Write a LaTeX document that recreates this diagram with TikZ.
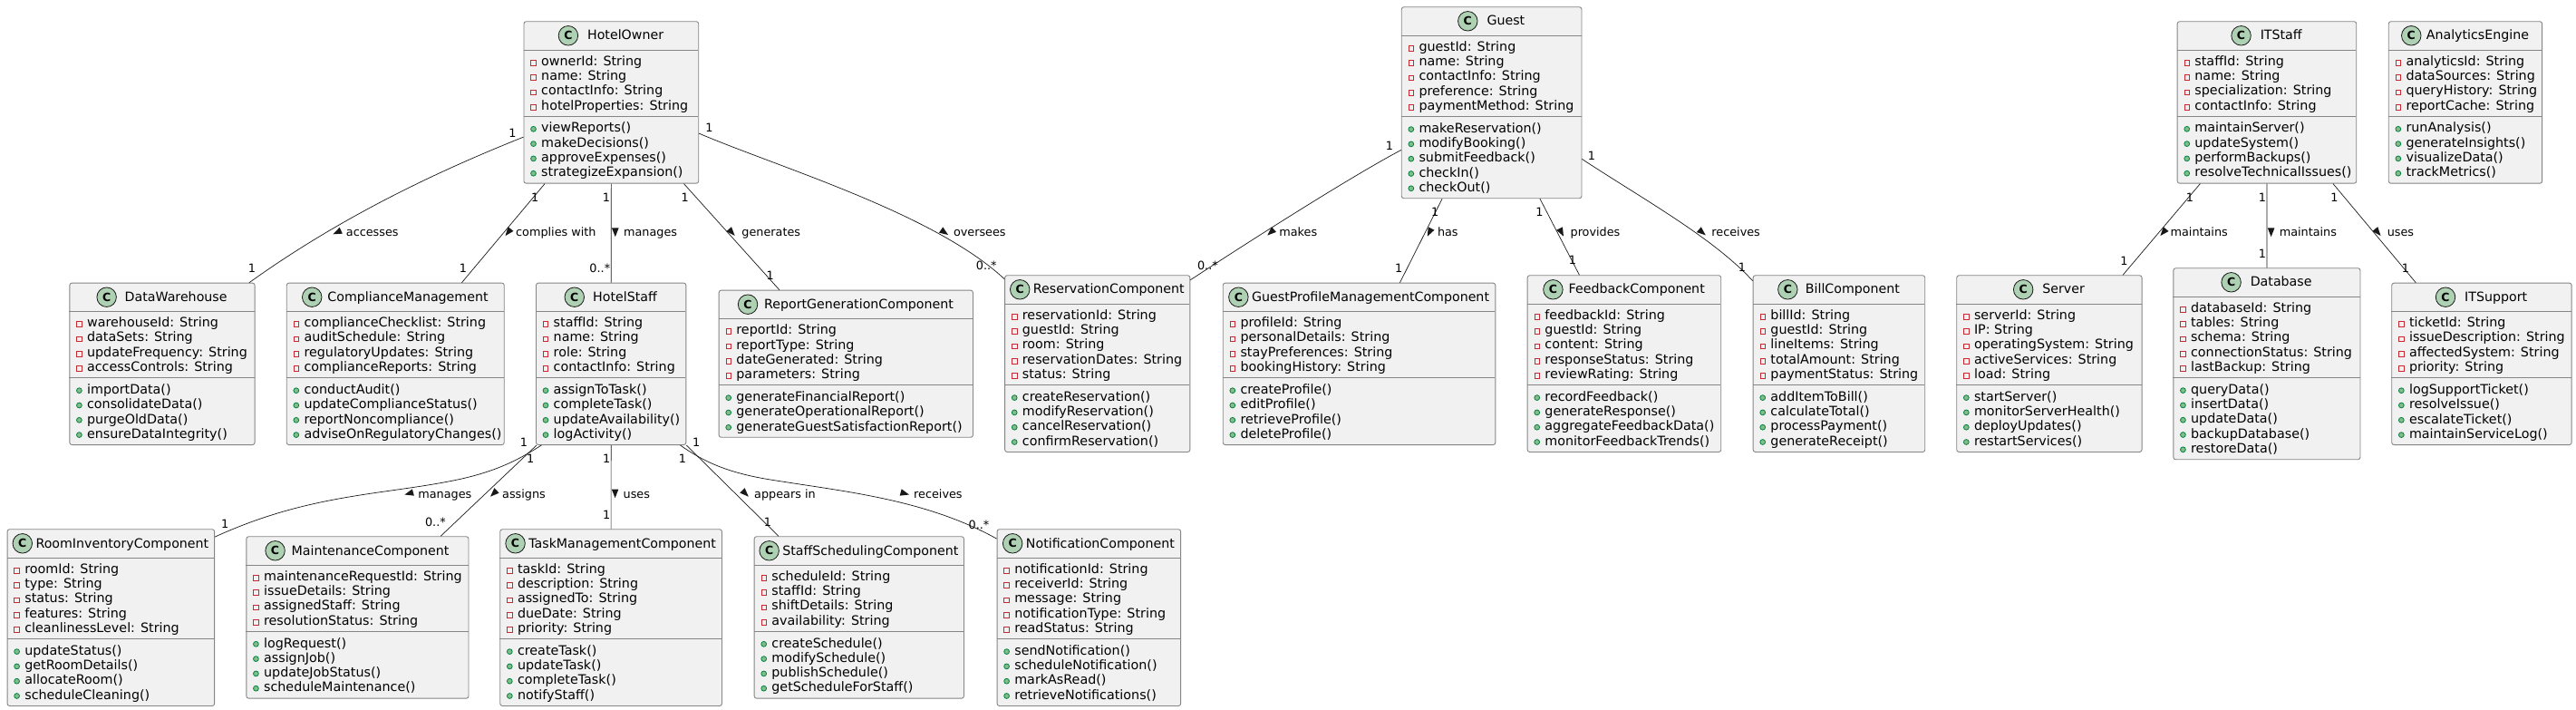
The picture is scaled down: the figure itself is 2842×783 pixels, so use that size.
\documentclass[tikz,border=0pt]{standalone}
\usepackage{fontspec}
\setmainfont{DejaVu Sans}
\usetikzlibrary{arrows.meta}

\definecolor{boxfill}{HTML}{F1F1F1}
\definecolor{boxline}{HTML}{858585}
\definecolor{linkline}{HTML}{181818}
\definecolor{spotfill}{HTML}{ADD1B2}
\definecolor{privline}{HTML}{C82930}
\definecolor{pubfill}{HTML}{84BE84}
\definecolor{publine}{HTML}{038048}

\newlength{\titlewd}
\newcommand{\rowfont}{\fontsize{14.3}{16.3}\selectfont}
\newcommand{\titlefont}{\fontsize{14.2}{16.3}\selectfont}
\newcommand{\linkfont}{\fontsize{12.8}{15}\selectfont}

% name, title, left, top, width, fields, operations
\newcommand{\umlclass}[7]{%
    \foreach \fname [count=\k] in {#6} {\xdef\nfields{\k}}
    \foreach \fname [count=\k] in {#7} {\xdef\nops{\k}}
    \pgfmathsetmacro{\yfields}{#4+32}
    \pgfmathsetmacro{\ysep}{#4+32+8+16.3*\nfields}
    \pgfmathsetmacro{\ybot}{\ysep+8+16.3*\nops}
    \pgfmathsetmacro{\boxht}{\ybot-#4}
    \pgfmathsetmacro{\xright}{#3+#5}
    \node[classbox, minimum width=#5pt, minimum height=\boxht pt] (#1) at (#3,#4) {};
    \draw[boxrule] (#3,\yfields) -- (\xright,\yfields);
    \draw[boxrule] (#3,\ysep) -- (\xright,\ysep);
    % spot and title share the header, the gap grows with the spare room
    \settowidth{\titlewd}{\pgfinterruptpicture\titlefont #2\endpgfinterruptpicture}
    \pgfmathsetmacro{\spare}{#5-22-\titlewd}
    \pgfmathsetmacro{\titlegap}{3+min(7,0.1*max(\spare-10.6,0))}
    \pgfmathsetmacro{\xspot}{#3+(\spare-\titlegap)/2+11}
    \node[classspot] (#1-spot) at (\xspot,#4+16) {C};
    \node[classtitle] (#1-title) at (\xspot+11+\titlegap,#4+20.7) {#2};
    \foreach \fname [count=\k] in {#6} {
        \pgfmathsetmacro{\ybase}{\yfields+17+16.3*(\k-1)}
        \node[privmark] (#1-fm\k) at (#3+11,\ybase-3) {};
        \node[rowtext] (#1-f\k) at (#3+19.5,\ybase) {\fname: String};
    }
    \foreach \fname [count=\k] in {#7} {
        \pgfmathsetmacro{\ybase}{\ysep+17.5+16.3*(\k-1)}
        \node[pubmark] (#1-om\k) at (#3+11,\ybase-3.7) {};
        \node[rowtext] (#1-o\k) at (#3+19.5,\ybase) {\fname()};
    }
}

% name, text left, baseline, text, mark x, mark angle
\newcommand{\linklabel}[6]{%
    \node[linktext] (#1) at (#2,#3) {#4};
    \fill[linkline, shift={(#5,#3-4.8)}, rotate=#6] (5,0) -- (-4.7,3.8) -- (-4.7,-3.8) -- cycle;
}

\begin{document}
\begin{tikzpicture}[x=1pt, y=-1pt]
    \tikzstyle{classbox} = [draw=boxline, fill=boxfill, line width=0.9pt, rounded corners=2.5pt, rectangle, inner sep=0pt, anchor=north west];
    \tikzstyle{boxrule} = [draw=boxline, line width=0.9pt];
    \tikzstyle{classspot} = [circle, draw=linkline, fill=spotfill, line width=0.8pt, minimum size=21.5pt, inner sep=0pt, font=\fontsize{12.5}{13}\selectfont\bfseries];
    \tikzstyle{classtitle} = [anchor=base west, inner sep=0pt, font=\titlefont];
    \tikzstyle{rowtext} = [anchor=base west, inner sep=0pt, font=\rowfont];
    \tikzstyle{privmark} = [rectangle, draw=privline, line width=0.8pt, minimum size=5.6pt, inner sep=0pt];
    \tikzstyle{pubmark} = [circle, draw=publine, fill=pubfill, line width=0.8pt, minimum size=5.8pt, inner sep=0pt];
    \tikzstyle{linktext} = [anchor=base west, inner sep=0pt, font=\linkfont];
    \tikzstyle{mult} = [inner sep=0pt, font=\linkfont];
    \tikzstyle{assoc} = [draw=linkline, line width=0.7pt];

    \useasboundingbox (0,0) rectangle (2842,783);

    \umlclass{owner}{HotelOwner}{577.5}{23.3}{192.8}{ownerId,name,contactInfo,hotelProperties}{viewReports,makeDecisions,approveExpenses,strategizeExpansion}
    \umlclass{guest}{Guest}{1545.8}{7.3}{198.7}{guestId,name,contactInfo,preference,paymentMethod}{makeReservation,modifyBooking,submitFeedback,checkIn,checkOut}
    \umlclass{itstaff}{ITStaff}{2401.7}{23.3}{197.6}{staffId,name,specialization,contactInfo}{maintainServer,updateSystem,performBackups,resolveTechnicalIssues}
    \umlclass{analytics}{AnalyticsEngine}{2634.8}{23.3}{169.4}{analyticsId,dataSources,queryHistory,reportCache}{runAnalysis,generateInsights,visualizeData,trackMetrics}

    \umlclass{warehouse}{DataWarehouse}{76.4}{311.7}{204.2}{warehouseId,dataSets,updateFrequency,accessControls}{importData,consolidateData,purgeOldData,ensureDataIntegrity}
    \umlclass{compliance}{ComplianceManagement}{315.8}{311.7}{240}{complianceChecklist,auditSchedule,regulatoryUpdates,complianceReports}{conductAudit,updateComplianceStatus,reportNoncompliance,adviseOnRegulatoryChanges}
    \umlclass{staff}{HotelStaff}{591}{311.7}{165.4}{staffId,name,role,contactInfo}{assignToTask,completeTask,updateAvailability,logActivity}
    \umlclass{report}{ReportGenerationComponent}{792.7}{319.7}{280.3}{reportId,reportType,dateGenerated,parameters}{generateFinancialReport,generateOperationalReport,generateGuestSatisfactionReport}
    \umlclass{reservation}{ReservationComponent}{1108.2}{303.3}{204.2}{reservationId,guestId,room,reservationDates,status}{createReservation,modifyReservation,cancelReservation,confirmReservation}
    \umlclass{profile}{GuestProfileManagementComponent}{1348.8}{311.7}{300.6}{profileId,personalDetails,stayPreferences,bookingHistory}{createProfile,editProfile,retrieveProfile,deleteProfile}
    \umlclass{feedback}{FeedbackComponent}{1684.7}{303.3}{213.6}{feedbackId,guestId,content,responseStatus,reviewRating}{recordFeedback,generateResponse,aggregateFeedbackData,monitorFeedbackTrends}
    \umlclass{bill}{BillComponent}{1933.7}{303.3}{189.6}{billId,guestId,lineItems,totalAmount,paymentStatus}{addItemToBill,calculateTotal,processPayment,generateReceipt}
    \umlclass{server}{Server}{2158.3}{303.3}{204.3}{serverId,IP,operatingSystem,activeServices,load}{startServer,monitorServerHealth,deployUpdates,restartServices}
    \umlclass{database}{Database}{2397.4}{295.3}{206.1}{databaseId,tables,schema,connectionStatus,lastBackup}{queryData,insertData,updateData,backupDatabase,restoreData}
    \umlclass{support}{ITSupport}{2638.3}{311.7}{198.4}{ticketId,issueDescription,affectedSystem,priority}{logSupportTicket,resolveIssue,escalateTicket,maintainServiceLog}

    \umlclass{room}{RoomInventoryComponent}{7.6}{583.3}{228.6}{roomId,type,status,features,cleanlinessLevel}{updateStatus,getRoomDetails,allocateRoom,scheduleCleaning}
    \umlclass{maintenance}{MaintenanceComponent}{271.4}{591.3}{245.1}{maintenanceRequestId,issueDetails,assignedStaff,resolutionStatus}{logRequest,assignJob,updateJobStatus,scheduleMaintenance}
    \umlclass{task}{TaskManagementComponent}{551.3}{583.3}{244.7}{taskId,description,assignedTo,dueDate,priority}{createTask,updateTask,completeTask,notifyStaff}
    \umlclass{schedule}{StaffSchedulingComponent}{831.7}{591.3}{231.3}{scheduleId,staffId,shiftDetails,availability}{createSchedule,modifySchedule,publishSchedule,getScheduleForStaff}
    \umlclass{notification}{NotificationComponent}{1099.6}{583.3}{202.6}{notificationId,receiverId,message,notificationType,readStatus}{sendNotification,scheduleNotification,markAsRead,retrieveNotifications}

    % hotel owner
    \draw[assoc] ([yshift=-38.2pt]owner.west) .. controls (480,190) and (375,240) .. ([xshift=96pt]warehouse.north);
    \node[mult] (ownerware1) at (565.5,146.7) {1}; \node[mult] (ownerware2) at (278,295.7) {1};
    \linklabel{accesses}{381.7}{261}{accesses}{372}{205}
    \draw[assoc] ([xshift=-73.3pt]owner.south) -- ([xshift=73.2pt]compliance.north);
    \node[mult] (ownercomp1) at (590.3,218) {1}; \node[mult] (ownercomp2) at (511,295.7) {1};
    \linklabel{complies}{569}{261}{complies with}{560.6}{232}
    \draw[assoc] (owner.south) -- (staff.north);
    \node[mult] (ownerstaff1) at (669,218) {1}; \node[mult] (ownerstaff2) at (661.8,295.7) {0..*};
    \linklabel{managesstaff}{687.9}{261}{manages}{678.8}{270}
    \draw[assoc] ([xshift=80.1pt]owner.south) -- ([xshift=-73.45pt]report.north);
    \node[mult] (ownerrep1) at (755.8,218) {1}; \node[mult] (ownerrep2) at (849.7,303.7) {1};
    \linklabel{generates}{818.2}{261}{generates}{807.3}{312}
    \draw[assoc] ([yshift=-34.2pt]owner.east) .. controls (860,185) and (1030,235) .. ([yshift=93.35pt]reservation.west);
    \node[mult] (ownerres1) at (782.4,141) {1}; \node[mult] (ownerres2) at (1088.2,293) {0..*};
    \linklabel{oversees}{1051.8}{261}{oversees}{1042}{325}

    % guest
    \draw[assoc] ([yshift=-52.2pt]guest.west) .. controls (1490,195) and (1380,265) .. ([yshift=92.35pt]reservation.east);
    \node[mult] (guestres1) at (1533,161) {1}; \node[mult] (guestres2) at (1332.4,293.3) {0..*};
    \linklabel{makes}{1411.2}{261}{makes}{1402}{222}
    \draw[assoc] ([xshift=-54.55pt]guest.south) -- ([xshift=44.9pt]profile.north);
    \node[mult] (guestprof1) at (1583.3,233.7) {1}; \node[mult] (guestprof2) at (1543.3,295.7) {1};
    \linklabel{has}{1585.8}{261}{has}{1577}{244}
    \draw[assoc] ([xshift=53.35pt]guest.south) -- ([xshift=-49.5pt]feedback.north);
    \node[mult] (guestfeed1) at (1698.5,233.7) {1}; \node[mult] (guestfeed2) at (1734.8,287.3) {1};
    \linklabel{provides}{1732.4}{261}{provides}{1722.7}{297}
    \draw[assoc] ([yshift=-62.2pt]guest.east) .. controls (1810,218) and (1890,262) .. ([yshift=91.35pt]bill.west);
    \node[mult] (guestbill1) at (1756,171.7) {1}; \node[mult] (guestbill2) at (1922,294.7) {1};
    \linklabel{receivesbill}{1888.2}{261}{receives}{1877.9}{320}

    % it staff
    \draw[assoc] ([xshift=-73.6pt]itstaff.south) -- ([xshift=81.15pt]server.north);
    \node[mult] (itserv1) at (2416,218) {1}; \node[mult] (itserv2) at (2343.4,287.7) {1};
    \linklabel{maintainsserver}{2394.4}{261}{maintains}{2386.6}{230}
    \draw[assoc] (itstaff.south) -- (database.north);
    \node[mult] (itdata1) at (2496,218) {1}; \node[mult] (itdata2) at (2496,279.7) {1};
    \linklabel{maintainsdata}{2514.6}{261}{maintains}{2505.6}{270}
    \draw[assoc] ([xshift=73pt]itstaff.south) -- ([xshift=-72.7pt]support.north);
    \node[mult] (itsupp1) at (2575.3,218) {1}; \node[mult] (itsupp2) at (2654,295.7) {1};
    \linklabel{usessupport}{2633.6}{261}{uses}{2623.3}{309.5}

    % hotel staff
    \draw[assoc] ([xshift=-76.8pt]staff.south) .. controls (575,505) and (550,520) .. (500,530) .. controls (420,546) and (340,545) .. ([yshift=89pt]room.east);
    \node[mult] (staffroom1) at (585.3,505.7) {1}; \node[mult] (staffroom2) at (248.2,577.7) {1};
    \linklabel{managesroom}{461.2}{549}{manages}{451.3}{195}
    \draw[assoc] ([xshift=-82.2pt]staff.south) -- ([xshift=91.75pt]maintenance.north);
    \node[mult] (staffmain1) at (578,487.7) {1}; \node[mult] (staffmain2) at (480.4,575.7) {0..*};
    \linklabel{assigns}{554}{549}{assigns}{544.6}{224}
    \draw[assoc] (staff.south) -- (task.north);
    \node[mult] (stafftask1) at (669.2,505.7) {1}; \node[mult] (stafftask2) at (669.2,567.7) {1};
    \linklabel{usestask}{687.5}{549}{uses}{678.6}{270}
    \draw[assoc] (staff.south east) -- ([xshift=-88.85pt]schedule.north);
    \node[mult] (staffsched1) at (768.3,487.7) {1}; \node[mult] (staffsched2) at (846.9,575.7) {1};
    \linklabel{appears}{832}{549}{appears in}{822.3}{315}
    \draw[assoc] ([xshift=76.3pt]staff.south) .. controls (775,508) and (800,521) .. (850,529) .. controls (930,542) and (1020,550) .. ([yshift=87pt]notification.west);
    \node[mult] (staffnote1) at (753,505.7) {1}; \node[mult] (staffnote2) at (1080,579.3) {0..*};
    \linklabel{receivesnote}{1008}{549}{receives}{998.2}{345}
\end{tikzpicture}
\end{document}
